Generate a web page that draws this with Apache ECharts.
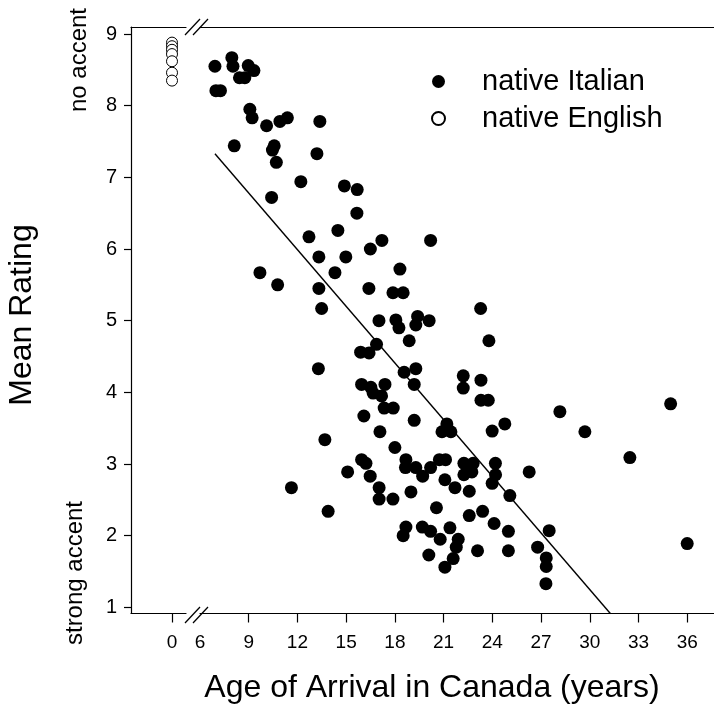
<!DOCTYPE html>
<html style="height: 100%">
<head>
<meta charset="utf-8">
<script src="https://cdn.jsdelivr.net/npm/echarts@6/dist/echarts.min.js"></script>
<style type="text/css">
  *{ margin: 0; padding: 0; }
</style>
</head>
<body style="height: 100%; margin: 0; background: #fff">
<div id="container" style="width: 714px; height: 708px"></div>
<script type="text/javascript">
// native Italian speakers: age of arrival vs mean accent rating
var italianAge = [
  6.92, 7.96, 8.03, 8.97, 9.32, 8.43, 8.76, 6.98, 7.26, 9.07,
  9.21, 10.10, 10.92, 11.38, 13.38, 8.11, 10.57, 10.46, 10.70, 13.20,
  12.21, 10.41, 14.89, 15.68, 15.66, 12.71, 14.49, 17.20, 20.20, 13.32,
  14.98, 16.49, 9.69, 10.78, 14.31, 18.31, 13.32, 16.40, 17.88, 18.51,
  13.49, 23.28, 17.02, 18.06, 18.25, 19.40, 19.29, 20.11, 18.88, 23.79,
  16.87, 15.89, 16.41, 13.29, 18.57, 19.29, 19.19, 15.95, 16.52, 16.66,
  17.39, 17.18, 17.34, 17.90, 22.21, 22.21, 23.30, 23.30, 23.75, 16.09,
  19.19, 28.16, 34.98, 29.70, 32.47, 21.20, 20.90, 21.45, 23.99, 24.77,
  17.08, 13.69, 18.00, 15.95, 16.22, 18.68, 18.65, 19.29, 20.20, 20.74,
  21.12, 22.25, 22.82, 22.25, 22.74, 24.19, 24.20, 23.99, 26.27, 15.09,
  16.48, 19.71, 21.08, 21.70, 22.58, 25.08, 11.63, 17.03, 17.03, 17.88,
  18.99, 13.89, 20.56, 22.58, 23.40, 24.11, 18.68, 18.51, 19.69, 20.20,
  20.79, 21.39, 21.90, 21.78, 24.99, 27.50, 23.09, 24.99, 26.79, 27.32,
  27.32, 27.30, 20.09, 21.59, 21.08, 36.00
];
var italianRating = [
  8.55, 8.67, 8.55, 8.56, 8.49, 8.39, 8.39, 8.21, 8.21, 7.95,
  7.83, 7.72, 7.78, 7.83, 7.78, 7.44, 7.44, 7.38, 7.21, 7.33,
  6.94, 6.72, 6.88, 6.83, 6.50, 6.17, 6.26, 6.12, 6.12, 5.89,
  5.89, 6.00, 5.67, 5.50, 5.67, 5.72, 5.45, 5.45, 5.39, 5.39,
  5.17, 5.17, 5.00, 5.01, 4.90, 5.06, 4.94, 5.00, 4.72, 4.72,
  4.67, 4.56, 4.55, 4.33, 4.28, 4.33, 4.11, 4.11, 4.07, 3.99,
  4.11, 3.95, 3.78, 3.78, 4.23, 4.06, 4.17, 3.89, 3.89, 3.67,
  3.61, 3.73, 3.84, 3.45, 3.09, 3.56, 3.45, 3.45, 3.46, 3.56,
  3.45, 3.34, 3.23, 3.06, 3.01, 3.06, 2.95, 2.95, 2.95, 3.06,
  3.06, 3.01, 3.01, 2.85, 2.89, 3.01, 2.85, 2.73, 2.89, 2.89,
  2.83, 2.83, 2.78, 2.67, 2.62, 2.56, 2.67, 2.67, 2.51, 2.51,
  2.61, 2.34, 2.39, 2.28, 2.34, 2.17, 2.12, 2.00, 2.12, 2.06,
  1.95, 2.11, 1.95, 1.84, 2.06, 2.07, 1.79, 1.79, 1.84, 1.69,
  1.57, 1.33, 1.73, 1.68, 1.56, 1.89
];
// native English controls (plotted at 0)
var englishAge = [0, 0, 0, 0, 0, 0, 0];
var englishRating = [8.88, 8.83, 8.78, 8.72, 8.62, 8.46, 8.35];
// regression line end points
var fitAge = [6.92, 31.28];
var fitRating = [7.33, 0.91];

var yTicks = [1, 2, 3, 4, 5, 6, 7, 8, 9];
var xTicksLeft = [0];
var xTicksRight = [9, 12, 15, 18, 21, 24, 27, 30, 33, 36];
var xLabelsRight = [6, 9, 12, 15, 18, 21, 24, 27, 30, 33, 36];

function zip(a, b) {
  var out = [];
  for (var i = 0; i < a.length; i++) out.push([a[i], b[i]]);
  return out;
}

var FONT = "'Liberation Sans', Arial, sans-serif";
var LINE = { show: true, onZero: false, lineStyle: { color: '#000', width: 1.2 } };
var Y_MIN = 0.914, Y_MAX = 9.098;

var dom = document.getElementById('container');
var myChart = echarts.init(dom);

var option = {
  animation: false,
  backgroundColor: '#fff',
  grid: [
    { left: 131, right: 528, top: 27, bottom: 94.5, outerBoundsMode: 'none' },
    { left: 200, right: 0, top: 27, bottom: 94.5, outerBoundsMode: 'none' }
  ],
  xAxis: [
    { type: 'value', gridIndex: 0, position: 'bottom', min: -2.525, max: 0.862,
      axisLine: LINE, splitLine: { show: false },
      axisTick: { show: true, length: 9, customValues: xTicksLeft, lineStyle: { color: '#000', width: 1.2 } },
      axisLabel: { customValues: xTicksLeft, margin: 20, fontSize: 19, fontFamily: FONT, color: '#000' } },
    { type: 'value', gridIndex: 0, position: 'top', min: -2.525, max: 0.862,
      axisLine: LINE, splitLine: { show: false }, axisTick: { show: false }, axisLabel: { show: false } },
    { type: 'value', gridIndex: 1, position: 'bottom', min: 6, max: 37.65,
      axisLine: LINE, splitLine: { show: false },
      axisTick: { show: true, length: 9, customValues: xTicksRight, lineStyle: { color: '#000', width: 1.2 } },
      axisLabel: { customValues: xLabelsRight, margin: 20, fontSize: 19, fontFamily: FONT, color: '#000' } },
    { type: 'value', gridIndex: 1, position: 'top', min: 6, max: 37.65,
      axisLine: LINE, splitLine: { show: false }, axisTick: { show: false }, axisLabel: { show: false } }
  ],
  yAxis: [
    { type: 'value', gridIndex: 0, position: 'left', min: Y_MIN, max: Y_MAX,
      axisLine: LINE, splitLine: { show: false },
      axisTick: { show: true, length: 7, customValues: yTicks, lineStyle: { color: '#000', width: 1.2 } },
      axisLabel: { customValues: yTicks, margin: 14, fontSize: 20, fontFamily: FONT, color: '#000' } },
    { type: 'value', gridIndex: 1, min: Y_MIN, max: Y_MAX, show: false }
  ],
  legend: {
    orient: 'vertical', left: 431, top: 67, padding: 0,
    itemWidth: 13, itemHeight: 13, itemGap: 8,
    selectedMode: false,
    textStyle: { fontSize: 29, fontFamily: FONT, color: '#000', lineHeight: 28, padding: [0, 0, 0, 32] },
    data: [{ name: 'native Italian', icon: 'circle' }, { name: 'native English', icon: 'circle' }]
  },
  series: [
    {
      name: 'native Italian', type: 'scatter', xAxisIndex: 2, yAxisIndex: 1,
      symbolSize: 13, silent: true,
      itemStyle: { color: '#000', opacity: 1 },
      data: zip(italianAge, italianRating)
    },
    {
      name: 'native English', type: 'scatter', xAxisIndex: 0, yAxisIndex: 0,
      symbolSize: 11, silent: true,
      itemStyle: { color: '#fff', borderColor: '#000', borderWidth: 1, opacity: 1 },
      data: zip(englishAge, englishRating)
    },
    {
      type: 'line', xAxisIndex: 2, yAxisIndex: 1, silent: true,
      symbol: 'none', showSymbol: false,
      lineStyle: { color: '#000', width: 1.4 },
      data: zip(fitAge, fitRating)
    }
  ],
  graphic: [
    // axis break marks
    { type: 'line', shape: { x1: 185, y1: 623, x2: 200, y2: 607 }, style: { stroke: '#000', lineWidth: 1.2 } },
    { type: 'line', shape: { x1: 193, y1: 623, x2: 208, y2: 607 }, style: { stroke: '#000', lineWidth: 1.2 } },
    { type: 'line', shape: { x1: 185, y1: 35, x2: 200, y2: 19 }, style: { stroke: '#000', lineWidth: 1.2 } },
    { type: 'line', shape: { x1: 193, y1: 35, x2: 208, y2: 19 }, style: { stroke: '#000', lineWidth: 1.2 } },
    // titles
    { type: 'text', x: 432, y: 688,
      style: { text: 'Age of Arrival in Canada (years)', font: '32px ' + FONT, fill: '#000',
               align: 'center', verticalAlign: 'middle', textAlign: 'center', textVerticalAlign: 'middle' } },
    { type: 'text', x: 22, y: 315, rotation: Math.PI / 2,
      style: { text: 'Mean Rating', font: '32px ' + FONT, fill: '#000',
               align: 'center', verticalAlign: 'middle', textAlign: 'center', textVerticalAlign: 'middle' } },
    { type: 'text', x: 79, y: 60, rotation: Math.PI / 2,
      style: { text: 'no accent', font: '24px ' + FONT, fill: '#000',
               align: 'center', verticalAlign: 'middle', textAlign: 'center', textVerticalAlign: 'middle' } },
    { type: 'text', x: 75, y: 573, rotation: Math.PI / 2,
      style: { text: 'strong accent', font: '24px ' + FONT, fill: '#000',
               align: 'center', verticalAlign: 'middle', textAlign: 'center', textVerticalAlign: 'middle' } }
  ]
};

myChart.setOption(option);
</script>
</body>
</html>
